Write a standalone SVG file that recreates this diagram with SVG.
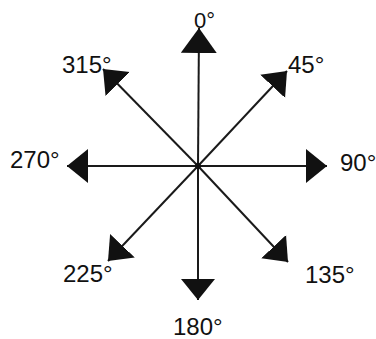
<svg xmlns="http://www.w3.org/2000/svg" width="376" height="339" viewBox="0 0 376 339">
<style>
.lbl{font-family:"Liberation Sans",Arial,sans-serif;font-size:24px;fill:#111}
.ln{stroke:#1a1a1a;stroke-width:2;fill:none}
</style>
<defs>
<marker id="ah" markerUnits="userSpaceOnUse" markerWidth="24" markerHeight="40" viewBox="0 -20 24 40" refX="21" refY="0" orient="auto">
<path d="M0,-17 L21,0 L0,17 Z" fill="#111"/>
</marker>
<marker id="ahL" markerUnits="userSpaceOnUse" markerWidth="28" markerHeight="40" viewBox="0 -20 28 40" refX="25" refY="0" orient="auto">
<path d="M0,-18 L25,0 L0,18 Z" fill="#111"/>
</marker>
</defs>
<rect width="376" height="339" fill="#fff"/>
<g id="connectors">
<line class="ln" x1="198" y1="166" x2="199" y2="28" marker-end="url(#ahL)"/>
<line class="ln" x1="198" y1="166" x2="287" y2="71" marker-end="url(#ah)"/>
<line class="ln" x1="198" y1="166" x2="327" y2="166" marker-end="url(#ah)"/>
<line class="ln" x1="198" y1="166" x2="288" y2="262" marker-end="url(#ah)"/>
<line class="ln" x1="198" y1="166" x2="198" y2="300" marker-end="url(#ah)"/>
<line class="ln" x1="198" y1="166" x2="108" y2="261" marker-end="url(#ah)"/>
<line class="ln" x1="198" y1="166" x2="67" y2="166" marker-end="url(#ah)"/>
<line class="ln" x1="198" y1="166" x2="103" y2="69" marker-end="url(#ah)"/>
<circle cx="198" cy="166" r="3" fill="#111"/>
</g>
<g id="n0"><text class="lbl" x="194" y="28" style="font-size:22px">0°</text></g>
<g id="n45"><text class="lbl" x="288" y="73">45°</text></g>
<g id="n90"><text class="lbl" x="340" y="171">90°</text></g>
<g id="n135"><text class="lbl" x="305" y="283">135°</text></g>
<g id="n180"><text class="lbl" x="173" y="335">180°</text></g>
<g id="n225"><text class="lbl" x="63" y="282">225°</text></g>
<g id="n270"><text class="lbl" x="10" y="168">270°</text></g>
<g id="n315"><text class="lbl" x="62" y="73">315°</text></g>
</svg>
